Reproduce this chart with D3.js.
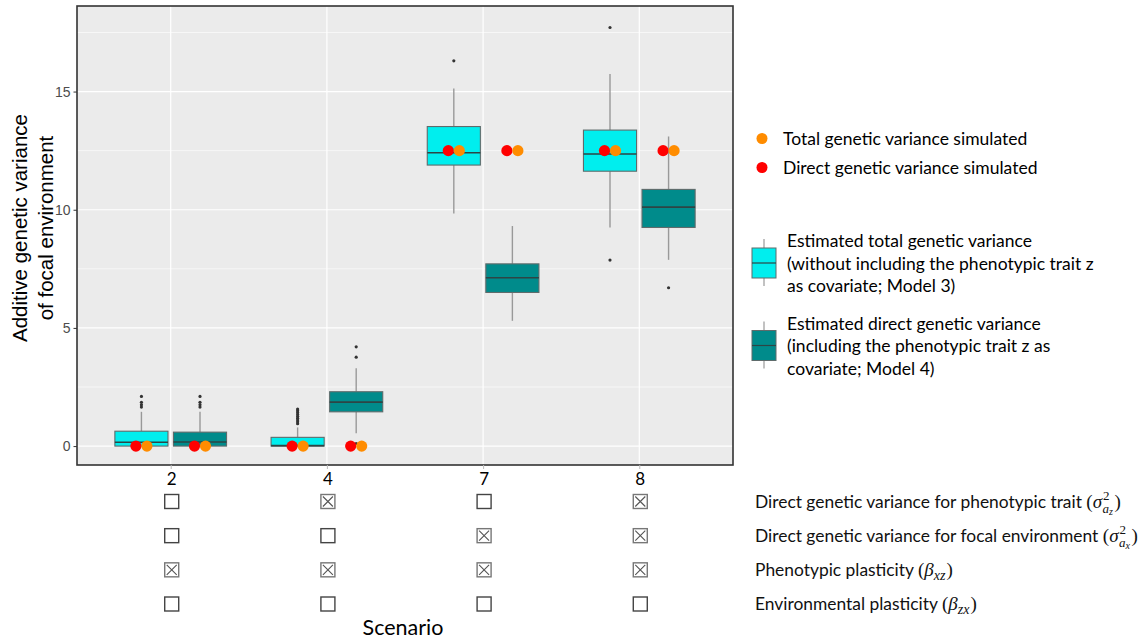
<!DOCTYPE html>
<html>
<head lang="en">
    <meta charset="UTF-8">
    <title></title>
    <style>
        body { margin: 0; background: #fff; }
    </style>
</head>
<body>
<div id="chart"></div>
<script src="https://cdn.jsdelivr.net/npm/d3@7"></script>
<script>
    // scenarios on the x axis
    var categories = ["2", "4", "7", "8"];

    // estimated total genetic variance (Model 3)
    var totalLo  = [0, 0, 9.84, 9.25];
    var totalQ1  = [0, 0, 11.89, 11.63];
    var totalMed = [0.16, 0.02, 12.41, 12.36];
    var totalQ3  = [0.63, 0.37, 13.52, 13.37];
    var totalHi  = [1.45, 0.79, 15.13, 15.74];
    var totalOut = [[1.65, 1.75, 1.85, 2.1], [0.95, 1.03, 1.1, 1.18, 1.26, 1.34, 1.42, 1.5, 1.57], [16.3], [7.87, 17.71]];

    // estimated direct genetic variance (Model 4)
    var directLo  = [0, 0.54, 5.3, 7.88];
    var directQ1  = [0, 1.45, 6.5, 9.25];
    var directMed = [0.17, 1.86, 7.12, 10.11];
    var directQ3  = [0.59, 2.3, 7.71, 10.86];
    var directHi  = [1.45, 3.29, 9.31, 13.1];
    var directOut = [[1.65, 1.75, 1.85, 2.1], [0.11, 3.76, 4.2], [], [6.7]];

    // simulated values
    var totalSim  = [0, 0, 12.5, 12.5];
    var directSim = [0, 0, 12.5, 12.5];

    var yTicks = [0, 5, 10, 15];
    var yMinor = [2.5, 7.5, 12.5, 17.5];

    // scenario table under the plot
    var rowText = ["Direct genetic variance for phenotypic trait",
                   "Direct genetic variance for focal environment",
                   "Phenotypic plasticity",
                   "Environmental plasticity"];
    var rowSym = [["σ", "2", "a", "z"], ["σ", "2", "a", "x"], ["β", "", "xz", ""], ["β", "", "zx", ""]];
    var checks = [[0, 1, 0, 1], [0, 0, 1, 1], [1, 1, 1, 1], [0, 0, 0, 0]];

    var cyan = "#00EEEE", teal = "#008B8B", red = "#FF0000", orange = "#FF8C00";
    var txtFont = "Lato, 'Open Sans', sans-serif";
    var mathFont = "'Liberation Serif', 'DejaVu Serif', serif";

    var W = 1141, H = 642;
    var panel = {left: 77, right: 733, top: 6, bottom: 465};

    var svg = d3.select("#chart").append("svg")
        .attr("width", W).attr("height", H);

    var x = d3.scalePoint().domain(categories)
        .range([panel.left, panel.right]).padding(0.6);
    var y = d3.scaleLinear().domain([-0.80, 18.62])
        .range([panel.bottom, panel.top]);

    var step = x.step();
    var dodge = step * 0.1875;
    var boxW = step * 0.34;

    // panel background and grid
    svg.append("rect")
        .attr("x", panel.left).attr("y", panel.top)
        .attr("width", panel.right - panel.left).attr("height", panel.bottom - panel.top)
        .attr("fill", "#EBEBEB");

    svg.selectAll(".minor").data(yMinor).enter().append("line")
        .attr("x1", panel.left).attr("x2", panel.right)
        .attr("y1", function(d){ return y(d); }).attr("y2", function(d){ return y(d); })
        .attr("stroke", "#fff").attr("stroke-width", 0.6);
    svg.selectAll(".major").data(yTicks).enter().append("line")
        .attr("x1", panel.left).attr("x2", panel.right)
        .attr("y1", function(d){ return y(d); }).attr("y2", function(d){ return y(d); })
        .attr("stroke", "#fff").attr("stroke-width", 1.2);
    svg.selectAll(".vmajor").data(categories).enter().append("line")
        .attr("x1", function(d){ return x(d); }).attr("x2", function(d){ return x(d); })
        .attr("y1", panel.top).attr("y2", panel.bottom)
        .attr("stroke", "#fff").attr("stroke-width", 1.2);

    //ボックスプロットを描く
    function drawBoxes(lo, q1, med, q3, hi, out, off, fill) {
        var g = svg.append("g");
        categories.forEach(function(c, i){
            var cx = x(c) + off;
            g.append("line")
                .attr("x1", cx).attr("x2", cx)
                .attr("y1", y(hi[i])).attr("y2", y(q3[i]))
                .attr("stroke", "#999").attr("stroke-width", 1.4);
            g.append("line")
                .attr("x1", cx).attr("x2", cx)
                .attr("y1", y(q1[i])).attr("y2", y(lo[i]))
                .attr("stroke", "#999").attr("stroke-width", 1.4);
            g.append("rect")
                .attr("x", cx - boxW / 2).attr("y", y(q3[i]))
                .attr("width", boxW).attr("height", Math.max(1, y(q1[i]) - y(q3[i])))
                .attr("fill", fill).attr("stroke", "#5f6b6b").attr("stroke-width", 1.1);
            g.append("line")
                .attr("x1", cx - boxW / 2).attr("x2", cx + boxW / 2)
                .attr("y1", y(med[i])).attr("y2", y(med[i]))
                .attr("stroke", "#2d4545").attr("stroke-width", 1.6);
            g.selectAll(null).data(out[i]).enter().append("circle")
                .attr("cx", cx).attr("cy", function(d){ return y(d); })
                .attr("r", 1.6).attr("fill", "#333");
        });
    }
    drawBoxes(totalLo, totalQ1, totalMed, totalQ3, totalHi, totalOut, -dodge, cyan);
    drawBoxes(directLo, directQ1, directMed, directQ3, directHi, directOut, dodge, teal);

    // simulated points at both dodge positions
    [-dodge, dodge].forEach(function(off){
        svg.append("g").selectAll("circle").data(directSim).enter().append("circle")
            .attr("cx", function(d, i){ return x(categories[i]) + off - 5.5; })
            .attr("cy", function(d){ return y(d); })
            .attr("r", 5.6).attr("fill", red);
        svg.append("g").selectAll("circle").data(totalSim).enter().append("circle")
            .attr("cx", function(d, i){ return x(categories[i]) + off + 5.5; })
            .attr("cy", function(d){ return y(d); })
            .attr("r", 5.6).attr("fill", orange);
    });

    // panel border
    svg.append("rect")
        .attr("x", panel.left).attr("y", panel.top)
        .attr("width", panel.right - panel.left).attr("height", panel.bottom - panel.top)
        .attr("fill", "none").attr("stroke", "#333").attr("stroke-width", 1.6);

    // y axis
    var yAxis = svg.append("g")
        .attr("transform", "translate(" + panel.left + ",0)")
        .call(d3.axisLeft(y).tickValues(yTicks).tickSize(3.5).tickPadding(3));
    yAxis.select(".domain").remove();
    yAxis.selectAll("line").attr("stroke", "#333");
    yAxis.selectAll("text")
        .attr("fill", "#4D4D4D")
        .style("font-family", "'Liberation Sans', Arial, sans-serif")
        .style("font-size", "14px");

    // x axis (labels are part of the table below)
    var xAxis = svg.append("g")
        .attr("transform", "translate(0," + panel.bottom + ")")
        .call(d3.axisBottom(x).tickSize(4).tickFormat(""));
    xAxis.select(".domain").remove();
    xAxis.selectAll("line").attr("stroke", "#bbb");

    // y title
    var yTitle = svg.append("text")
        .attr("transform", "translate(0,228) rotate(-90)")
        .attr("text-anchor", "middle")
        .style("font-family", "'Liberation Sans', Arial, sans-serif")
        .style("font-size", "20.5px")
        .attr("fill", "#000");
    yTitle.append("tspan").attr("x", 0).attr("y", 27).text("Additive genetic variance");
    yTitle.append("tspan").attr("x", 0).attr("y", 53).text("of focal environment");

    // scenario numbers
    svg.selectAll(".scen").data(categories).enter().append("text")
        .attr("x", function(d){ return x(d) + 1; }).attr("y", 484.5)
        .attr("text-anchor", "middle")
        .style("font-family", txtFont).style("font-size", "17px")
        .text(function(d){ return d; });

    // checkbox table
    var rowY = d3.scalePoint().domain(d3.range(rowText.length)).range([501.5, 604]);
    var box = 14;
    checks.forEach(function(row, r){
        categories.forEach(function(c, i){
            var bx = x(c) - box / 2 + 1, by = rowY(r) - box / 2;
            var g = svg.append("g");
            g.append("rect")
                .attr("x", bx).attr("y", by).attr("width", box).attr("height", box)
                .attr("fill", "#fff")
                .attr("stroke", row[i] ? "#777" : "#444").attr("stroke-width", 1.4);
            if (row[i]) {
                g.append("path")
                    .attr("d", "M" + (bx + 2) + "," + (by + 2) + "L" + (bx + box - 2) + "," + (by + box - 2) +
                               "M" + (bx + box - 2) + "," + (by + 2) + "L" + (bx + 2) + "," + (by + box - 2))
                    .attr("stroke", "#555").attr("stroke-width", 1.1).attr("fill", "none");
            }
        });

        var t = svg.append("text")
            .attr("x", 755).attr("y", rowY(r) + 6)
            .style("font-family", txtFont).style("font-size", "17.4px")
            .attr("fill", "#111");
        t.append("tspan").text(rowText[r] + " ");
        var s = rowSym[r];
        t.append("tspan").style("font-family", mathFont).style("font-size", "19px").text("(");
        t.append("tspan").style("font-family", mathFont).style("font-style", "italic")
            .style("font-size", "19px").text(s[0]);
        if (s[1]) {
            t.append("tspan").style("font-family", mathFont).style("font-size", "13px")
                .attr("dx", 1).attr("dy", -8).text(s[1]);
            t.append("tspan").style("font-family", mathFont).style("font-style", "italic")
                .style("font-size", "13px").attr("dx", -7).attr("dy", 13).text(s[2]);
            t.append("tspan").style("font-family", mathFont).style("font-style", "italic")
                .style("font-size", "10px").attr("dy", 2).text(s[3]);
            t.append("tspan").style("font-family", mathFont).style("font-size", "19px")
                .attr("dx", 1.5).attr("dy", -7).text(")");
        } else {
            t.append("tspan").style("font-family", mathFont).style("font-style", "italic")
                .style("font-size", "14px").attr("dy", 4).text(s[2]);
            t.append("tspan").style("font-family", mathFont).style("font-size", "19px")
                .attr("dx", 1).attr("dy", -4).text(")");
        }
    });

    svg.append("text")
        .attr("x", 403).attr("y", 635)
        .attr("text-anchor", "middle")
        .style("font-family", txtFont).style("font-size", "21.5px")
        .text("Scenario");

    // legend: simulated points
    var ptLegend = [["Total genetic variance simulated", orange, 138.5],
                    ["Direct genetic variance simulated", red, 167.5]];
    ptLegend.forEach(function(p){
        svg.append("circle").attr("cx", 762).attr("cy", p[2]).attr("r", 5.5).attr("fill", p[1]);
        svg.append("text").attr("x", 783).attr("y", p[2] + 6)
            .style("font-family", txtFont).style("font-size", "17.5px")
            .text(p[0]);
    });

    // legend: boxes
    var boxLegend = [
        [cyan, 263, ["Estimated total genetic variance", "(without including the phenotypic trait z", "as covariate; Model 3)"]],
        [teal, 345.5, ["Estimated direct genetic variance", "(including the phenotypic trait z as", "covariate; Model 4)"]]
    ];
    boxLegend.forEach(function(b){
        var cx = 764, cy = b[1];
        svg.append("line").attr("x1", cx).attr("x2", cx).attr("y1", cy - 24).attr("y2", cy + 23)
            .attr("stroke", "#999").attr("stroke-width", 1.2);
        svg.append("rect").attr("x", cx - 12).attr("y", cy - 15).attr("width", 24).attr("height", 30)
            .attr("fill", b[0]).attr("stroke", "#5f6b6b").attr("stroke-width", 1);
        svg.append("line").attr("x1", cx - 12).attr("x2", cx + 12).attr("y1", cy).attr("y2", cy)
            .attr("stroke", "#2d4545").attr("stroke-width", 1.2);
        b[2].forEach(function(line, k){
            svg.append("text").attr("x", 787).attr("y", cy - 22 + k * 22.5 + 6)
                .style("font-family", txtFont).style("font-size", "17.5px")
                .text(line);
        });
    });
</script>
</body>
</html>
